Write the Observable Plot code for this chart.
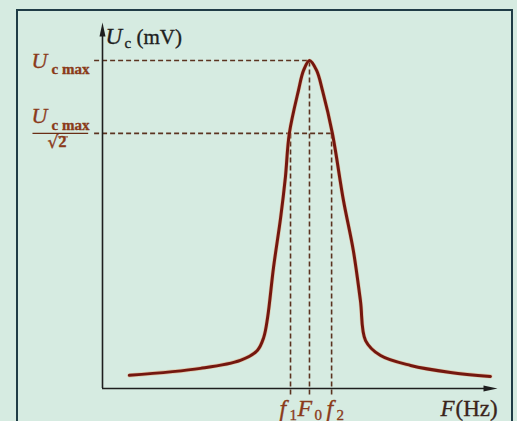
<!DOCTYPE html>
<html>
<head>
<meta charset="utf-8">
<script src="https://cdn.jsdelivr.net/npm/d3@7"></script>
<script src="https://cdn.jsdelivr.net/npm/@observablehq/plot@0.6"></script>
<style>
  html, body { margin: 0; padding: 0; background: #d6ebe1; }
  #wrap { position: relative; width: 517px; height: 421px; overflow: hidden; }
  #box { position: absolute; left: 16px; top: 9px; width: 493px; height: 430px;
         border: 2px solid #1f3c46; border-bottom: none; }
  #chart { position: absolute; left: 0; top: 0; }
  #chart svg { background: transparent; }
</style>
</head>
<body>
<div id="wrap"><div id="box"></div><div id="chart"></div></div>
<script>
// Resonance curve (arbitrary units, axis 0..100)
const freq = [6.8, 24.8, 34.9, 39.2, 40.8, 41.8, 43.3, 45.1, 46.3, 47.3, 49.6, 50.9, 52.4, 54.2, 55.7, 58.2, 61.0, 63.5, 65.3, 66.6, 70.4, 78.0, 88.1, 98.2];
const volt = [3.6, 5.5, 7.7, 10.4, 13.9, 19.4, 33.1, 46.7, 57.7, 69.7, 81.4, 86.9, 89.6, 86.9, 81.4, 69.7, 51.4, 37.7, 24.0, 13.1, 9.0, 6.3, 4.4, 3.3];
const f1 = 47.6, F0 = 52.4, f2 = 58.0;
const Umax = 89.6, Uhalf = 69.7;
const axisMax = 100;
const guideStart = -2, guideBelow = -1.8;
const fracLeft = -17.6, fracRight = -3.5;
const rootLeft = -11.2, rootRight = -8.6;

const curve = freq.map((f, i) => ({F: f, U: volt[i]}));

const upArrow = {draw(ctx) { ctx.moveTo(0, 0); ctx.lineTo(-3, 14); ctx.lineTo(3, 14); ctx.closePath(); }};
const rightArrow = {draw(ctx) { ctx.moveTo(0, 0); ctx.lineTo(-14, -3); ctx.lineTo(-14, 3); ctx.closePath(); }};

const serif = "Liberation Serif, Times New Roman, serif";
const brown = "#8a3a1a";
const dark = "#1e1e1e";

// text pieces: anchor point in data space + pixel offsets
const labels = [
  // y-axis title
  {x: 0, y: axisMax, t: "U", dx: 3, dy: 21, s: 23, it: true, c: dark},
  {x: 0, y: axisMax, t: "c", dx: 22, dy: 25, s: 15, c: dark},
  {x: 0, y: axisMax, t: "(mV)", dx: 34, dy: 21, s: 21, c: dark},
  // U c max
  {x: 0, y: Umax, t: "U", dx: -71, dy: 7, s: 22, it: true, c: brown},
  {x: 0, y: Umax, t: "c max", dx: -51, dy: 13, s: 15, b: true, c: brown},
  // U c max / sqrt2
  {x: 0, y: Uhalf, t: "U", dx: -71, dy: -10, s: 22, it: true, c: brown},
  {x: 0, y: Uhalf, t: "c max", dx: -51, dy: -3, s: 15, b: true, c: brown},
  {x: 0, y: Uhalf, t: "√", dx: -55, dy: 15, s: 17, f: "DejaVu Serif, serif", c: brown},
  {x: 0, y: Uhalf, t: "2", dx: -44, dy: 14, s: 16, b: true, c: brown},
  // frequency labels
  {x: f1, y: 0, t: "f", dx: -11, dy: 27, s: 24, it: true, c: brown},
  {x: f1, y: 0, t: "1", dx: -1, dy: 31, s: 15, c: brown},
  {x: F0, y: 0, t: "F", dx: -12, dy: 27, s: 24, it: true, c: brown},
  {x: F0, y: 0, t: "0", dx: 5, dy: 31, s: 15, c: brown},
  {x: f2, y: 0, t: "f", dx: -5, dy: 27, s: 24, it: true, c: brown},
  {x: f2, y: 0, t: "2", dx: 5, dy: 31, s: 15, c: brown},
  {x: axisMax, y: 0, t: "F", dx: -57, dy: 27, s: 23, it: true, c: "#3a241a"},
  {x: axisMax, y: 0, t: "(Hz)", dx: -42, dy: 27, s: 23, c: "#3a241a"}
];

const textMarks = labels.map(p => Plot.text([p], {
  x: "x", y: "y", text: "t", dx: p.dx, dy: p.dy, fontSize: p.s,
  fontFamily: p.f || serif, fontStyle: p.it ? "italic" : "normal", fontWeight: p.b ? "bold" : "normal",
  fill: p.c, stroke: p.c, strokeWidth: 0.35, textAnchor: "start", lineAnchor: "bottom"
}));

const dash = {stroke: "#5b3320", strokeWidth: 1.6, strokeDasharray: "5,3"};

const chart = Plot.plot({
  width: 517, height: 421,
  marginLeft: 102, marginRight: 20, marginTop: 22, marginBottom: 33,
  x: {domain: [0, axisMax], axis: null},
  y: {domain: [0, axisMax], axis: null},
  style: {background: "transparent", overflow: "visible"},
  marks: [
    Plot.ruleY([{y: Umax, x1: guideStart, x2: F0}], {y: "y", x1: "x1", x2: "x2", ...dash}),
    Plot.ruleY([{y: Uhalf, x1: guideStart, x2: f2}], {y: "y", x1: "x1", x2: "x2", ...dash}),
    Plot.ruleX([{x: f1, y1: guideBelow, y2: Uhalf}, {x: F0, y1: guideBelow, y2: Umax}, {x: f2, y1: guideBelow, y2: Uhalf}],
      {x: "x", y1: "y1", y2: "y2", ...dash}),
    Plot.ruleY([{y: Uhalf, x1: fracLeft, x2: fracRight}], {y: "y", x1: "x1", x2: "x2", stroke: "#6a2e16", strokeWidth: 1.4, dy: 0}),
    Plot.ruleY([{y: Uhalf, x1: rootLeft, x2: rootRight}], {y: "y", x1: "x1", x2: "x2", stroke: brown, strokeWidth: 1, dy: 3.5}),
    Plot.ruleX([{x: 0, y1: 0, y2: axisMax - 2}], {x: "x", y1: "y1", y2: "y2", stroke: dark, strokeWidth: 1.6}),
    Plot.ruleY([{y: 0, x1: 0, x2: axisMax - 2}], {y: "y", x1: "x1", x2: "x2", stroke: dark, strokeWidth: 1.6}),
    Plot.dot([{x: 0, y: axisMax}], {x: "x", y: "y", symbol: upArrow, fill: dark, stroke: "none", r: 5}),
    Plot.dot([{x: axisMax, y: 0}], {x: "x", y: "y", symbol: rightArrow, fill: dark, stroke: "none", r: 5}),
    Plot.line(curve, {x: "F", y: "U", curve: "catmull-rom", stroke: "#e8a070", strokeWidth: 4.2, strokeOpacity: 0.5}),
    Plot.line(curve, {x: "F", y: "U", curve: "catmull-rom", stroke: "#74170f", strokeWidth: 3}),
    ...textMarks
  ]
});
document.getElementById("chart").appendChild(chart);
</script>
</body>
</html>
